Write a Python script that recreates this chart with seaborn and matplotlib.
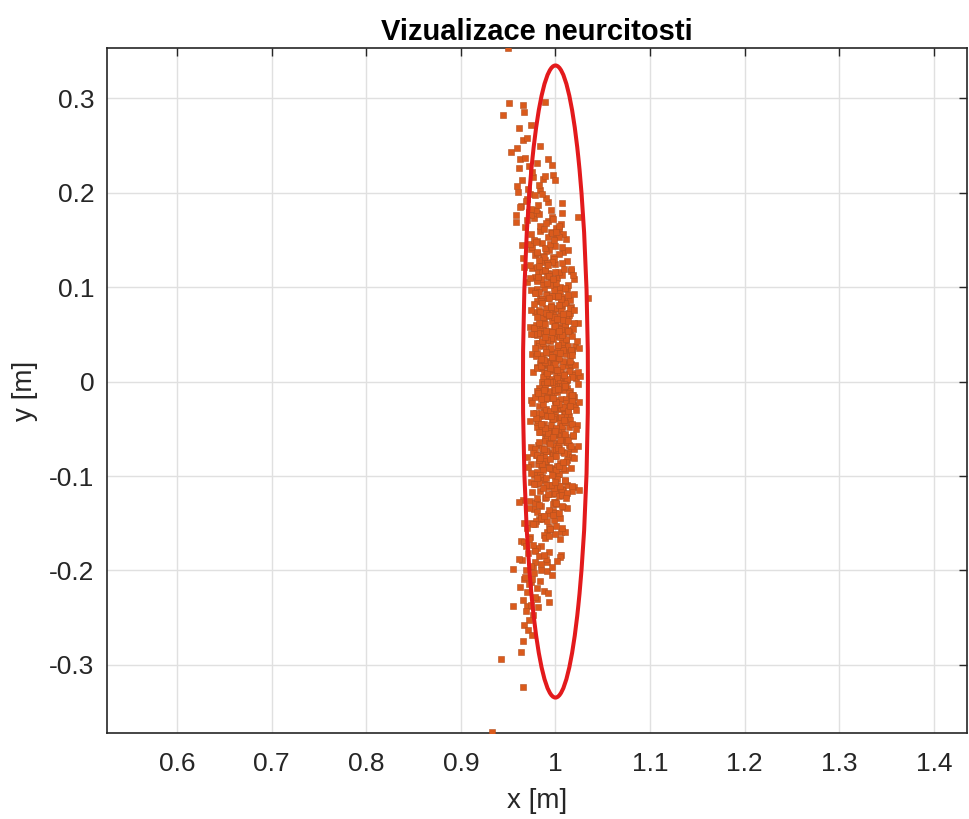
import matplotlib
matplotlib.use("Agg")
import matplotlib.pyplot as plt
from matplotlib.patches import Ellipse
import numpy as np
import pandas as pd
import seaborn as sns

# ---- samples above the x axis (core of the cloud, 0 <= y < 0.18) ----
upper_core_x = [
    1.004, 0.989, 1.017, 0.998, 1.008, 0.981, 1.001, 1.013, 0.993, 1.022,
    0.986, 1.006, 0.997, 1.010, 0.976, 1.015, 0.991, 1.000, 1.019, 0.984,
    1.003, 0.995, 1.011, 0.988, 1.007, 0.999, 1.026, 0.992, 1.014, 0.980,
    1.002, 1.009, 0.994, 1.012, 0.985, 1.005, 0.996, 1.018, 0.990, 1.016,
    1.012, 0.992, 1.021, 0.985, 1.005, 0.996, 1.009, 0.975, 1.014, 0.990,
    0.999, 1.018, 0.983, 1.002, 0.994, 1.010, 0.987, 1.006, 0.998, 1.025,
    0.991, 1.013, 0.979, 1.001, 1.008, 0.993, 1.011, 0.984, 1.004, 0.995,
    1.017, 0.989, 1.015, 1.003, 0.988, 1.016, 0.997, 1.007, 0.980,
    1.023, 0.984, 1.008, 0.999, 0.980, 1.015, 0.996, 1.004, 0.988, 1.011,
    0.992, 1.000, 0.973, 1.007, 0.985, 1.019, 0.997, 0.990, 1.005, 0.987,
    1.014, 0.994, 1.003, 0.981, 1.009, 0.983, 0.995, 1.010, 0.982, 1.001,
    0.991, 1.018, 0.998, 0.986, 1.006, 0.977, 1.013,
    0.997, 1.024, 0.990, 1.012, 0.978, 1.000, 1.007, 0.992, 1.010, 0.983,
    1.003, 0.994, 1.016, 0.988, 1.014, 1.002, 0.987, 1.015, 0.996, 1.006,
    0.979, 0.999, 1.011, 0.991, 1.020, 0.984, 1.004, 0.995, 1.008, 0.974,
    1.013, 0.989, 0.998,
    1.002, 0.984, 1.011, 0.991, 1.000, 0.978, 1.006, 0.980, 0.992, 1.007,
    0.979, 0.998, 0.988, 1.015, 0.995, 0.983, 1.003, 0.974, 1.010, 0.990,
    0.999, 0.986, 1.020, 0.981, 1.005, 0.996, 0.977, 1.012, 0.993,
    0.992, 1.002, 0.975, 0.995, 1.007, 0.987, 1.016, 0.980, 1.000, 0.991,
    1.004, 0.970, 1.009, 0.985, 0.994, 1.013, 0.978, 0.997, 0.989, 1.005,
    0.982, 1.001, 0.993, 1.020, 0.986,
    0.973, 1.008, 0.989, 0.997, 0.981, 1.004, 0.985, 0.993, 0.966, 1.000,
    0.978, 1.012, 0.990, 0.983, 0.998, 0.980, 1.007, 0.987, 0.996, 0.974,
    1.011, 0.975, 0.995, 0.986, 0.999, 0.965, 1.004, 0.980, 0.989, 1.008,
    0.973, 0.992, 0.984, 1.000, 0.977, 0.996,
    0.972, 1.006, 0.984, 0.977, 0.992, 0.974, 1.001, 0.981, 0.990, 0.968,
    0.996, 0.970,
]
upper_core_y = [
    0.003, 0.017, 0.009, 0.012, 0.001, 0.015, 0.006, 0.019, 0.011, 0.004,
    0.014, 0.008, 0.018, 0.002, 0.010, 0.016, 0.005, 0.013, 0.007, 0.020,
    0.012, 0.003, 0.017, 0.009, 0.015, 0.001, 0.006, 0.019, 0.011, 0.014,
    0.004, 0.008, 0.018, 0.002, 0.016, 0.010, 0.013, 0.005, 0.007, 0.019,
    0.031, 0.022, 0.038, 0.027, 0.034, 0.025, 0.040, 0.029, 0.021, 0.036,
    0.026, 0.033, 0.039, 0.023, 0.030, 0.037, 0.028, 0.032, 0.024, 0.035,
    0.020, 0.038, 0.027, 0.031, 0.022, 0.034, 0.029, 0.039, 0.025, 0.036,
    0.032, 0.021, 0.028, 0.037, 0.023, 0.033, 0.026, 0.040, 0.030,
    0.043, 0.057, 0.049, 0.052, 0.041, 0.055, 0.046, 0.059, 0.051, 0.044,
    0.054, 0.048, 0.058, 0.042, 0.050, 0.056, 0.045, 0.053, 0.047, 0.060,
    0.052, 0.043, 0.057, 0.049, 0.055, 0.041, 0.046, 0.059, 0.051, 0.054,
    0.044, 0.048, 0.058, 0.042, 0.056, 0.050, 0.053,
    0.071, 0.062, 0.078, 0.067, 0.074, 0.065, 0.080, 0.069, 0.061, 0.076,
    0.066, 0.073, 0.079, 0.063, 0.070, 0.077, 0.068, 0.072, 0.064, 0.075,
    0.060, 0.078, 0.067, 0.071, 0.062, 0.074, 0.069, 0.079, 0.065, 0.076,
    0.072, 0.061, 0.068,
    0.099, 0.087, 0.085, 0.093, 0.090, 0.096, 0.082, 0.098, 0.088, 0.084,
    0.094, 0.091, 0.099, 0.086, 0.081, 0.095, 0.089, 0.097, 0.083, 0.092,
    0.100, 0.087, 0.093, 0.085, 0.096, 0.090, 0.082, 0.098, 0.088,
    0.115, 0.110, 0.120, 0.106, 0.113, 0.103, 0.117, 0.108, 0.101, 0.112,
    0.116, 0.105, 0.119, 0.109, 0.114, 0.102, 0.111, 0.107, 0.118, 0.100,
    0.115, 0.104, 0.112, 0.108, 0.117,
    0.123, 0.137, 0.129, 0.132, 0.121, 0.135, 0.126, 0.139, 0.131, 0.124,
    0.134, 0.128, 0.138, 0.122, 0.130, 0.136, 0.125, 0.133, 0.127, 0.140,
    0.151, 0.142, 0.158, 0.147, 0.154, 0.145, 0.160, 0.149, 0.141, 0.156,
    0.146, 0.153, 0.159, 0.143, 0.150, 0.157,
    0.179, 0.167, 0.165, 0.173, 0.170, 0.176, 0.162, 0.178, 0.168, 0.164,
    0.174, 0.171,
]

# ---- further samples above the x axis ----
upper_extra_x = [
    0.987, 1.008, 1.021, 0.996, 1.011, 0.983, 1.002, 1.015, 0.991, 1.005,
    0.978, 1.012, 0.999, 1.018, 0.994, 1.009, 0.985, 1.003, 1.024, 0.990,
    1.011, 0.990, 0.977, 1.002, 0.987, 1.015, 0.996, 0.983, 1.007, 0.993,
    1.020, 0.986, 0.999, 0.980, 1.004, 0.989, 1.013, 0.995, 0.974, 1.008,
    0.985, 1.019, 0.998, 0.980, 1.004, 0.989, 1.013, 0.994, 1.007, 0.973,
    1.000, 0.986, 1.010, 0.997, 0.978, 1.006, 0.991, 1.016, 1.003, 0.982,
    0.991, 1.004, 0.980, 0.994, 0.967, 1.001, 0.988, 1.007, 0.983, 0.998,
    0.974, 0.992, 1.013, 0.979,
    1.004, 0.970, 0.983, 0.964, 0.988, 0.973, 0.997, 0.979, 0.958, 0.992,
    0.963, 0.984, 0.997, 0.972, 0.987, 0.959,
]
upper_extra_y = [
    0.005, 0.033, 0.017, 0.026, 0.001, 0.038, 0.012, 0.022, 0.009, 0.030,
    0.036, 0.003, 0.019, 0.028, 0.014, 0.007, 0.024, 0.039, 0.010, 0.031,
    0.045, 0.073, 0.057, 0.066, 0.041, 0.078, 0.052, 0.062, 0.049, 0.070,
    0.076, 0.043, 0.059, 0.068, 0.054, 0.047, 0.064, 0.079, 0.050, 0.071,
    0.085, 0.113, 0.097, 0.106, 0.081, 0.118, 0.092, 0.102, 0.089, 0.110,
    0.116, 0.083, 0.099, 0.108, 0.094, 0.087, 0.104, 0.119, 0.090, 0.111,
    0.125, 0.153, 0.137, 0.146, 0.121, 0.158, 0.132, 0.142, 0.129, 0.150,
    0.156, 0.123, 0.139, 0.148,
    0.165, 0.193, 0.177, 0.186, 0.161, 0.198, 0.172, 0.182, 0.169, 0.190,
    0.236, 0.203, 0.219, 0.228, 0.214, 0.207,
]

# ---- sparse upper tail and stray points ----
upper_tail_x = [
    0.995, 0.974, 0.963, 0.982, 1.007, 0.969, 0.990, 0.978, 0.986,
    0.960, 0.971, 0.983, 0.965, 1.000, 0.976, 0.989,
    0.975, 0.962, 0.996, 0.980, 0.992, 0.968,
    0.953, 0.959, 0.984, 0.966, 0.970,
    0.961, 0.974,
    0.945, 0.967, 0.966, 0.951, 0.989,
    0.950,
    0.958, 1.024, 1.007, 1.034,
]
upper_tail_y = [
    0.182, 0.183, 0.185, 0.187, 0.189, 0.191, 0.194, 0.197, 0.199,
    0.201, 0.204, 0.208, 0.213, 0.213, 0.216, 0.218,
    0.222, 0.226, 0.229, 0.231, 0.235, 0.237,
    0.243, 0.247, 0.249, 0.256, 0.258,
    0.268, 0.272,
    0.282, 0.285, 0.293, 0.295, 0.296,
    0.353,
    0.176, 0.174, 0.178, 0.088,
]

# ---- samples below the x axis (core of the cloud, -0.18 <= y < 0) ----
lower_core_x = [
    0.997, 1.005, 0.989, 1.012, 0.993, 1.001, 0.974, 1.008, 0.986, 1.020,
    0.998, 0.991, 1.006, 0.988, 1.015, 0.995, 1.004, 0.982, 1.010, 0.984,
    0.996, 1.011, 0.983, 1.002, 0.992, 1.019, 0.999, 0.987, 1.007, 0.978,
    1.014, 0.994, 1.003, 0.990, 1.024, 0.985, 1.009, 1.000, 0.981, 1.016,
    1.011, 0.984, 1.004, 0.995, 1.017, 0.989, 1.015, 1.003, 0.988, 1.016,
    0.997, 1.007, 0.980, 1.000, 1.012, 0.992, 1.021, 0.985, 1.005, 0.996,
    1.009, 0.975, 1.014, 0.990, 0.999, 1.018, 0.983, 1.002, 0.994, 1.010,
    0.987, 1.006, 0.998, 1.025, 0.991, 1.013, 0.979, 1.001, 1.008,
    0.993, 1.002, 0.989, 1.023, 0.984, 1.008, 0.999, 0.980, 1.015, 0.996,
    1.004, 0.988, 1.011, 0.992, 1.000, 0.973, 1.007, 0.985, 1.019, 0.997,
    0.990, 1.005, 0.987, 1.014, 0.994, 1.003, 0.981, 1.009, 0.983, 0.995,
    1.010, 0.982, 1.001, 0.991, 1.018, 0.998, 0.986,
    0.988, 1.014, 1.002, 0.987, 1.015, 0.996, 1.006, 0.979, 0.999, 1.011,
    0.991, 1.020, 0.984, 1.004, 0.995, 1.008, 0.974, 1.013, 0.989, 0.998,
    1.017, 0.982, 1.001, 0.993, 1.009, 0.986, 1.005, 0.997, 1.024, 0.990,
    1.012, 0.978, 1.000,
    0.995, 0.983, 1.003, 0.974, 1.010, 0.990, 0.999, 0.986, 1.020, 0.981,
    1.005, 0.996, 0.977, 1.012, 0.993, 1.001, 0.985, 1.008, 0.989, 0.997,
    0.970, 1.004, 0.982, 1.016, 0.994, 0.987, 1.002, 0.984, 1.011,
    0.982, 1.001, 0.993, 1.020, 0.986, 1.008, 0.974, 0.996, 1.003, 0.988,
    1.006, 0.979, 0.999, 0.990, 1.012, 0.984, 1.010, 0.998, 0.983, 1.011,
    0.992, 1.002, 0.975, 0.995, 1.007,
    0.977, 1.001, 0.992, 0.973, 1.008, 0.989, 0.997, 0.981, 1.004, 0.985,
    0.993, 0.966, 1.000, 0.978, 1.012, 0.990, 0.983, 0.998, 0.980, 1.007,
    0.991, 0.998, 0.983, 1.001, 0.974, 0.994, 0.985, 1.007, 0.979, 1.005,
    0.993, 0.978, 1.006, 0.987, 0.997, 0.970,
    0.969, 0.988, 0.978, 1.005, 0.985, 0.973, 0.993, 0.964, 1.000, 0.980,
    0.989, 0.976,
]
lower_core_y = [
    -0.011, -0.002, -0.018, -0.007, -0.014, -0.005, -0.020, -0.009, -0.001, -0.016,
    -0.006, -0.013, -0.019, -0.003, -0.010, -0.017, -0.008, -0.012, -0.004, -0.015,
    -0.001, -0.018, -0.007, -0.011, -0.002, -0.014, -0.009, -0.019, -0.005, -0.016,
    -0.012, -0.001, -0.008, -0.017, -0.003, -0.013, -0.006, -0.020, -0.010, -0.015,
    -0.023, -0.037, -0.029, -0.032, -0.021, -0.035, -0.026, -0.039, -0.031, -0.024,
    -0.034, -0.028, -0.038, -0.022, -0.030, -0.036, -0.025, -0.033, -0.027, -0.040,
    -0.032, -0.023, -0.037, -0.029, -0.035, -0.021, -0.026, -0.039, -0.031, -0.034,
    -0.024, -0.028, -0.038, -0.022, -0.036, -0.030, -0.033, -0.025, -0.027,
    -0.055, -0.050, -0.060, -0.046, -0.053, -0.043, -0.057, -0.048, -0.041, -0.052,
    -0.056, -0.045, -0.059, -0.049, -0.054, -0.042, -0.051, -0.047, -0.058, -0.040,
    -0.055, -0.044, -0.052, -0.048, -0.057, -0.050, -0.043, -0.059, -0.053, -0.046,
    -0.056, -0.041, -0.049, -0.060, -0.045, -0.054, -0.047,
    -0.079, -0.067, -0.065, -0.073, -0.070, -0.076, -0.062, -0.078, -0.068, -0.064,
    -0.074, -0.071, -0.079, -0.066, -0.061, -0.075, -0.069, -0.077, -0.063, -0.072,
    -0.080, -0.067, -0.073, -0.065, -0.076, -0.070, -0.062, -0.078, -0.068, -0.074,
    -0.064, -0.071, -0.079,
    -0.091, -0.082, -0.098, -0.087, -0.094, -0.085, -0.100, -0.089, -0.081, -0.096,
    -0.086, -0.093, -0.099, -0.083, -0.090, -0.097, -0.088, -0.092, -0.084, -0.095,
    -0.080, -0.098, -0.087, -0.091, -0.082, -0.094, -0.089, -0.099, -0.085,
    -0.103, -0.117, -0.109, -0.112, -0.101, -0.115, -0.106, -0.119, -0.111, -0.104,
    -0.114, -0.108, -0.118, -0.102, -0.110, -0.116, -0.105, -0.113, -0.107, -0.120,
    -0.112, -0.103, -0.117, -0.109, -0.115,
    -0.135, -0.130, -0.140, -0.126, -0.133, -0.123, -0.137, -0.128, -0.121, -0.132,
    -0.136, -0.125, -0.139, -0.129, -0.134, -0.122, -0.131, -0.127, -0.138, -0.120,
    -0.159, -0.147, -0.145, -0.153, -0.150, -0.156, -0.142, -0.158, -0.148, -0.144,
    -0.154, -0.151, -0.159, -0.146, -0.141, -0.155,
    -0.171, -0.162, -0.178, -0.167, -0.174, -0.165, -0.180, -0.169, -0.161, -0.176,
    -0.166, -0.173,
]

# ---- further samples below the x axis ----
lower_extra_x = [
    1.013, 0.992, 0.979, 1.004, 0.989, 1.017, 0.998, 0.985, 1.009, 0.995,
    1.022, 0.988, 1.001, 0.982, 1.006, 0.991, 1.015, 0.997, 0.976, 1.010,
    0.988, 1.022, 1.001, 0.983, 1.007, 0.992, 1.016, 0.997, 1.010, 0.976,
    1.003, 0.989, 1.013, 1.000, 0.981, 1.009, 0.994, 1.019, 1.006, 0.985,
    1.005, 0.971, 0.992, 1.010, 0.986, 1.001, 0.977, 0.996, 0.983, 1.017,
    0.990, 1.004, 0.980, 0.993, 1.012, 0.984, 0.999, 0.974, 0.987, 1.008,
    0.976, 0.997, 1.010, 0.985, 1.000, 0.972, 0.991, 1.004, 0.980, 0.994,
    0.967, 1.001, 0.988, 1.007,
    0.991, 0.967, 0.985, 1.006, 0.972, 0.969, 0.990, 0.978, 0.993, 0.976,
    0.981, 0.967, 0.988, 0.974, 0.970, 0.991,
]
lower_extra_y = [
    -0.031, -0.010, -0.039, -0.024, -0.007, -0.014, -0.028, -0.019, -0.003, -0.036,
    -0.030, -0.009, -0.022, -0.012, -0.038, -0.001, -0.026, -0.017, -0.033, -0.005,
    -0.071, -0.050, -0.079, -0.064, -0.047, -0.054, -0.068, -0.059, -0.043, -0.076,
    -0.070, -0.049, -0.062, -0.052, -0.078, -0.041, -0.066, -0.057, -0.073, -0.045,
    -0.111, -0.090, -0.119, -0.104, -0.087, -0.094, -0.108, -0.099, -0.083, -0.116,
    -0.110, -0.089, -0.102, -0.092, -0.118, -0.081, -0.106, -0.097, -0.113, -0.085,
    -0.151, -0.130, -0.159, -0.144, -0.127, -0.134, -0.148, -0.139, -0.123, -0.156,
    -0.150, -0.129, -0.142, -0.132,
    -0.191, -0.170, -0.199, -0.184, -0.167, -0.174, -0.188, -0.179, -0.163, -0.196,
    -0.230, -0.209, -0.222, -0.212, -0.238, -0.201,
]

# ---- sparse lower tail and stray points ----
lower_tail_x = [
    1.025, 1.017, 1.011, 0.962, 1.007,
    1.005, 1.002, 0.996, 0.955, 0.996, 0.992, 0.993, 0.955, 0.966, 0.964, 0.942, 0.966, 0.933,
    0.971, 0.983, 0.965, 0.978, 0.988, 0.974, 0.969, 0.985, 0.961,
    0.977, 0.968, 0.984, 0.972, 0.963, 0.980, 0.975,
    0.970, 0.978, 0.966, 0.974, 0.982,
    0.969, 0.976, 0.972, 0.967,
    0.971, 0.975,
]
lower_tail_y = [
    -0.115, -0.111, -0.123, -0.128, -0.155,
    -0.186, -0.190, -0.196, -0.198, -0.205, -0.224, -0.233, -0.238, -0.275, -0.286, -0.294, -0.323, -0.371,
    -0.182, -0.185, -0.189, -0.191, -0.184, -0.195, -0.199, -0.193, -0.188,
    -0.203, -0.207, -0.211, -0.214, -0.217, -0.219, -0.209,
    -0.223, -0.228, -0.231, -0.236, -0.239,
    -0.243, -0.247, -0.252, -0.258,
    -0.263, -0.268,
]

# ---- uncertainty ellipse (centre, semi-axes) ----
ell_center = (1.0, 0.0)
ell_semi_x = 0.0343
ell_semi_y = 0.3345

# ---- axes ----
x_ticks = [0.6, 0.7, 0.8, 0.9, 1.0, 1.1, 1.2, 1.3, 1.4]
x_tick_labels = ["0.6", "0.7", "0.8", "0.9", "1", "1.1", "1.2", "1.3", "1.4"]
y_ticks = [-0.3, -0.2, -0.1, 0.0, 0.1, 0.2, 0.3]
y_tick_labels = ["-0.3", "-0.2", "-0.1", "0", "0.1", "0.2", "0.3"]
x_limits = (0.526, 1.435)
y_limits = (-0.372, 0.353)

title_text = "Vizualizace neurcitosti"
x_label = "x [m]"
y_label = "y [m]"

sns.set_style("white")
plt.rcParams["font.family"] = ["Liberation Sans", "DejaVu Sans"]

points = pd.DataFrame({
    "x": upper_core_x + upper_extra_x + upper_tail_x
         + lower_core_x + lower_extra_x + lower_tail_x,
    "y": upper_core_y + upper_extra_y + upper_tail_y
         + lower_core_y + lower_extra_y + lower_tail_y,
})

W, H = 969, 819
fig = plt.figure(figsize=(W / 100, H / 100), dpi=100)
fig.patch.set_facecolor("white")
ax = fig.add_axes([107 / W, 86 / H, 860 / W, 685 / H])
ax.set_facecolor("white")

text_col = "#262626"

sns.scatterplot(
    data=points, x="x", y="y", ax=ax, marker="s", s=24,
    color="#DA5A1C", edgecolor="#B4501F", linewidth=0.4, zorder=3,
    legend=False,
)

ax.add_patch(Ellipse(ell_center, 2 * ell_semi_x, 2 * ell_semi_y, fill=False,
                     edgecolor="#E31A1C", linewidth=2.9, zorder=4))

ax.set_xlim(*x_limits)
ax.set_ylim(*y_limits)
ax.set_xticks(x_ticks)
ax.set_xticklabels(x_tick_labels)
ax.set_yticks(y_ticks)
ax.set_yticklabels(y_tick_labels)

ax.grid(True, color="#E0E0E0", linewidth=1.0)
ax.set_axisbelow(True)
for sp in ax.spines.values():
    sp.set_visible(True)
    sp.set_color(text_col)
    sp.set_linewidth(1.2)

ax.tick_params(axis="both", direction="in", length=6, width=1.0,
               top=True, right=True, colors=text_col, labelsize=19)
ax.tick_params(axis="x", pad=14)
ax.tick_params(axis="y", pad=9)

ax.set_xlabel(x_label, fontsize=20, color=text_col, labelpad=8)
ax.set_ylabel(y_label, fontsize=20, color=text_col, labelpad=8)
ax.set_title(title_text, fontsize=21, fontweight="bold", color="black", pad=6)

fig.savefig("out.png", dpi=100, facecolor="white")
